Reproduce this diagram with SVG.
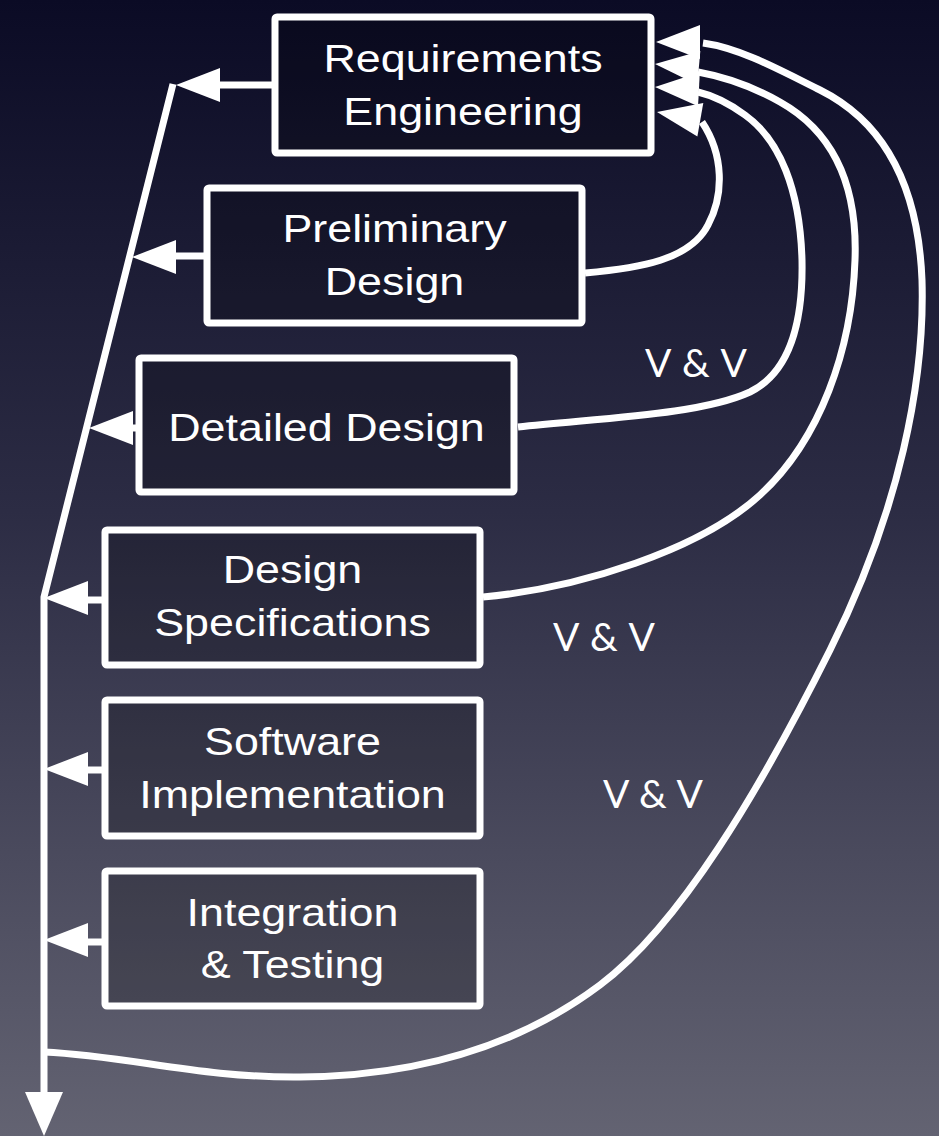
<svg xmlns="http://www.w3.org/2000/svg" xmlns:xlink="http://www.w3.org/1999/xlink" width="939" height="1136" viewBox="0 0 939 1136">
  <defs>
    <linearGradient id="bg" x1="0" y1="0" x2="0" y2="1">
      <stop offset="0" stop-color="#0b0b25"/>
      <stop offset="0.45" stop-color="#2c2c44"/>
      <stop offset="1" stop-color="#636372"/>
    </linearGradient>
    <!-- left-pointing arrowhead, tip at the origin -->
    <path id="head" d="M0,0 L44,-17 L44,17 Z" fill="#fff"/>
    <style>
      .box { fill: #000; fill-opacity: 0.2; stroke: #fff; stroke-width: 7; }
      .lbl { font-family: "Liberation Sans", Arial, sans-serif; font-size: 39px; fill: #fff; text-anchor: middle; }
      .vv { font-family: Lato, "Liberation Sans", sans-serif; font-size: 39px; fill: #fff; }
      .wire { fill: none; stroke: #fff; stroke-width: 7; stroke-linejoin: round; }
    </style>
  </defs>

  <rect width="939" height="1136" fill="url(#bg)"/>

  <!-- connectors -->
  <g id="connectors">
    <!-- output bus on the left -->
    <path class="wire" d="M173,84 L44,597 L44,1096"/>
    <path d="M25,1092 L63,1092 L44,1136 Z" fill="#fff"/>

    <!-- phase outputs into the bus -->
    <path class="wire" d="M275,85 L215,85"/>
    <use xlink:href="#head" x="176" y="85"/>
    <path class="wire" d="M207,256 L170,256"/>
    <use xlink:href="#head" x="132" y="257"/>
    <path class="wire" d="M139,428 L126,428"/>
    <use xlink:href="#head" x="89" y="428"/>
    <path class="wire" d="M105,600 L82,600"/>
    <use xlink:href="#head" x="44" y="598"/>
    <path class="wire" d="M105,770 L82,770"/>
    <use xlink:href="#head" x="44" y="769"/>
    <path class="wire" d="M105,942 L82,942"/>
    <use xlink:href="#head" x="44" y="940"/>

    <!-- V & V feedback loops to requirements -->
    <path class="wire" d="M585,273 C640,268 690,260 708,225 C724,195 724,155 702,122"/>
    <path class="wire" d="M518,427 C600,418 700,415 750,392 C795,370 803,310 802,260 C800,190 780,140 745,115 C730,104 715,96 698,92"/>
    <path class="wire" d="M483,597 C580,588 700,550 760,495 C820,440 852,350 855,260 C858,180 830,130 780,102 C750,85 720,76 698,72"/>
    <path class="wire" d="M44,1052 C130,1056 200,1078 300,1077 C420,1076 520,1045 600,985 C680,925 760,790 830,650 C900,510 925,380 922,280 C918,180 880,120 820,90 C780,70 740,48 703,43"/>

    <use xlink:href="#head" transform="translate(656,42)"/>
    <use xlink:href="#head" transform="translate(655,64) rotate(5)"/>
    <use xlink:href="#head" transform="translate(655,87) rotate(3)"/>
    <use xlink:href="#head" transform="translate(657,112) rotate(10)"/>
  </g>

  <g id="requirements">
    <rect class="box" x="275" y="17" width="376" height="136" rx="2"/>
    <text class="lbl" transform="translate(463,72) scale(1.15,1)">Requirements</text>
    <text class="lbl" transform="translate(463,125) scale(1.15,1)">Engineering</text>
  </g>

  <g id="preliminary-design">
    <rect class="box" x="207" y="188" width="375" height="135" rx="2"/>
    <text class="lbl" transform="translate(394.5,242) scale(1.15,1)">Preliminary</text>
    <text class="lbl" transform="translate(394.5,295) scale(1.15,1)">Design</text>
  </g>

  <g id="detailed-design">
    <rect class="box" x="139" y="358" width="375" height="134" rx="2"/>
    <text class="lbl" transform="translate(326.5,441) scale(1.15,1)">Detailed Design</text>
  </g>

  <g id="design-specifications">
    <rect class="box" x="105" y="530" width="375" height="135" rx="2"/>
    <text class="lbl" transform="translate(292.5,583) scale(1.15,1)">Design</text>
    <text class="lbl" transform="translate(292.5,636) scale(1.15,1)">Specifications</text>
  </g>

  <g id="software-implementation">
    <rect class="box" x="105" y="700" width="375" height="136" rx="2"/>
    <text class="lbl" transform="translate(292.5,755) scale(1.15,1)">Software</text>
    <text class="lbl" transform="translate(292.5,808) scale(1.15,1)">Implementation</text>
  </g>

  <g id="integration-testing">
    <rect class="box" x="105" y="871" width="375" height="135" rx="2"/>
    <text class="lbl" transform="translate(292.5,926) scale(1.15,1)">Integration</text>
    <text class="lbl" transform="translate(292.5,978) scale(1.15,1)">&amp; Testing</text>
  </g>

  <g id="vv-labels">
    <text class="vv" x="645" y="377" textLength="102" lengthAdjust="spacing">V &amp; V</text>
    <text class="vv" x="553" y="651" textLength="102" lengthAdjust="spacing">V &amp; V</text>
    <text class="vv" x="603" y="808" textLength="100" lengthAdjust="spacing">V &amp; V</text>
  </g>
</svg>
